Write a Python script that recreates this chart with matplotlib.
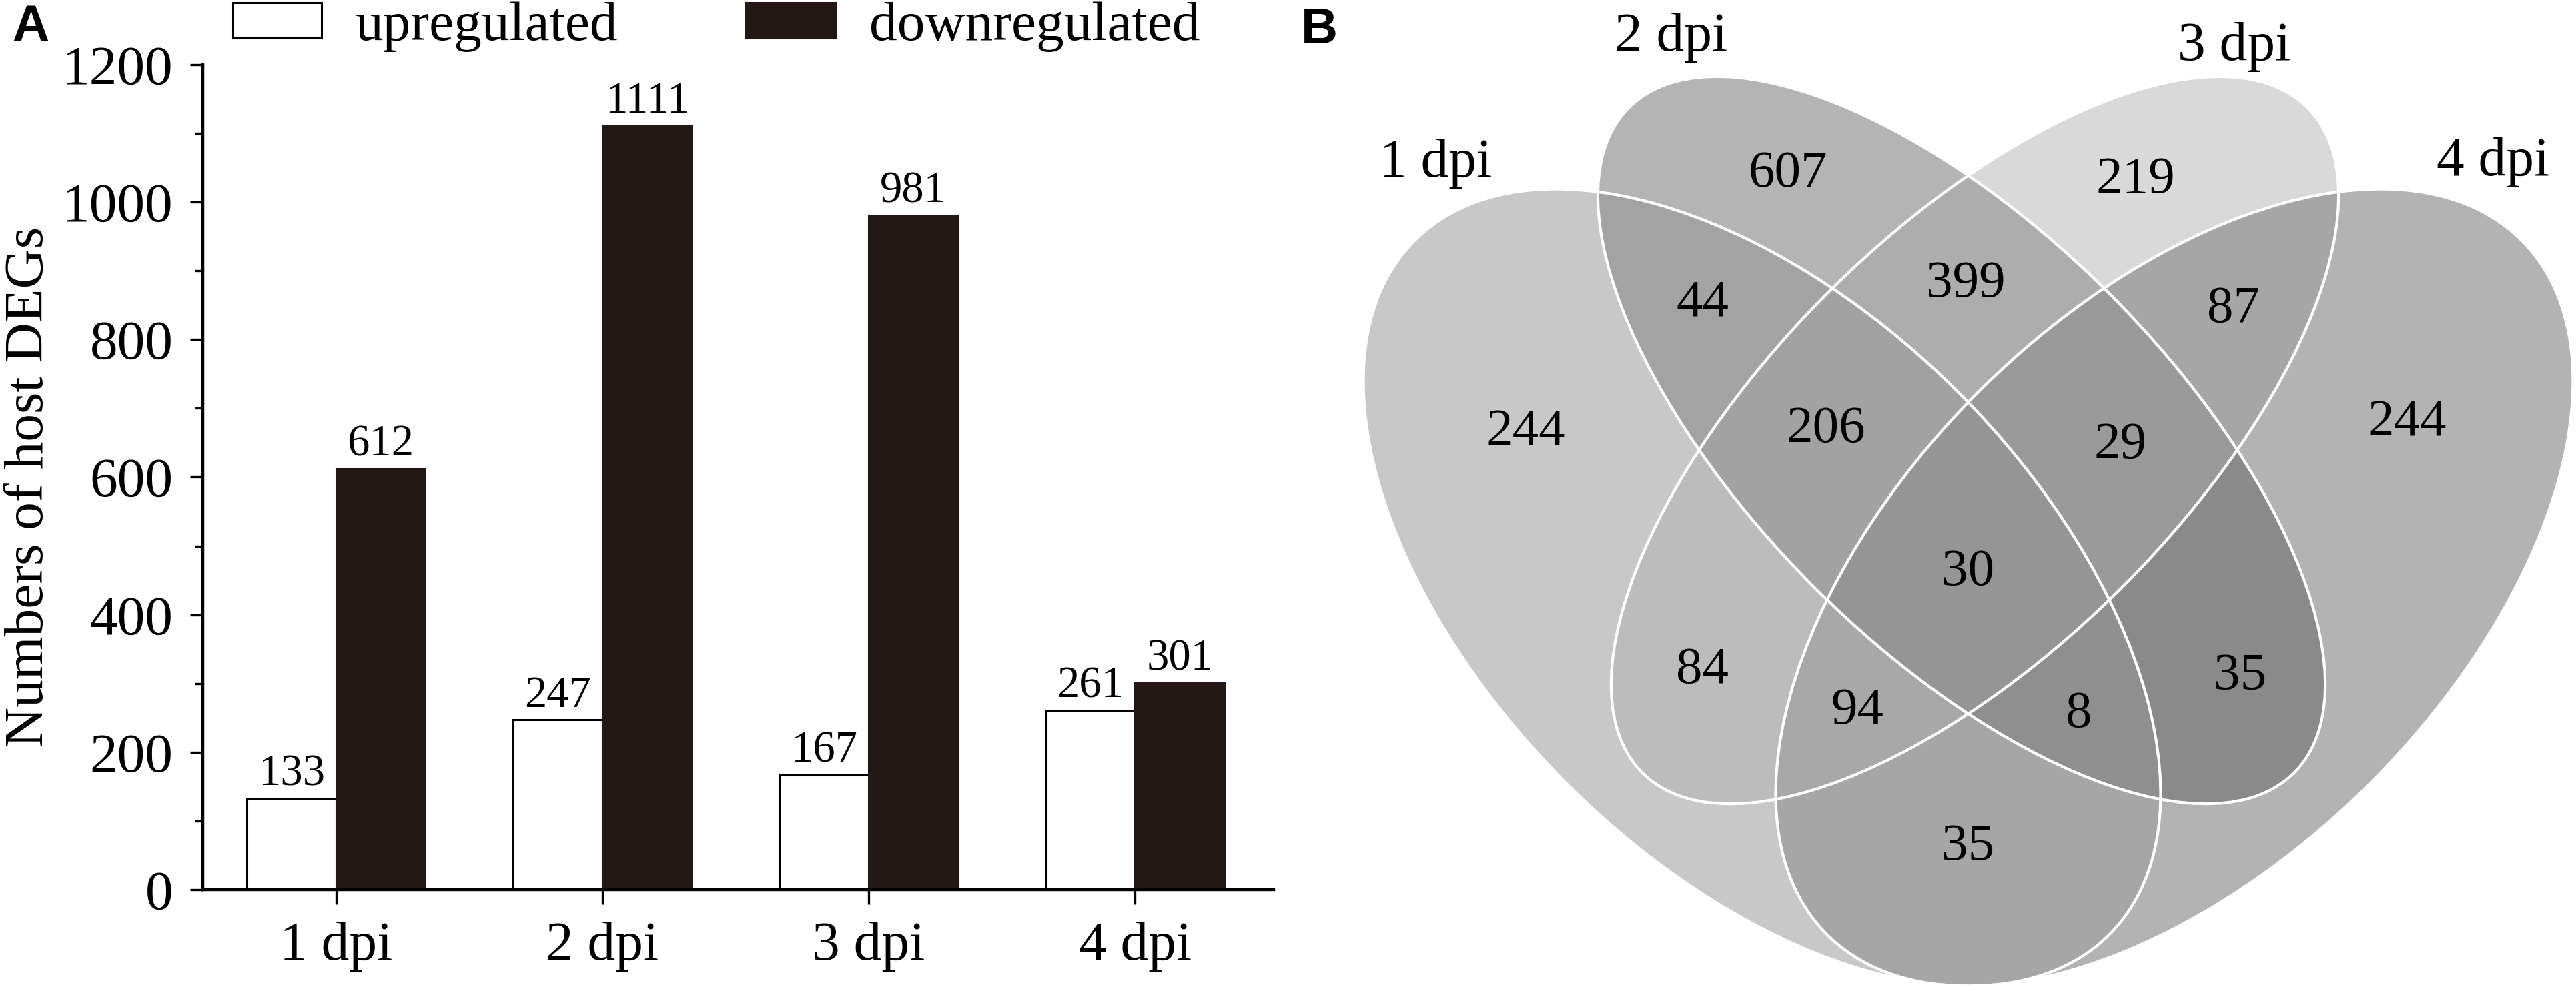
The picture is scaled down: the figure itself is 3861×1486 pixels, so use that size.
import matplotlib
matplotlib.use("Agg")
import matplotlib.pyplot as plt
from matplotlib.patches import Ellipse
import numpy as np

plt.rcParams["font.family"] = ["Liberation Serif", "DejaVu Serif"]

W, H = 3862, 1486

# panel A data
days = ["1 dpi", "2 dpi", "3 dpi", "4 dpi"]
upregulated = [133, 247, 167, 261]
downregulated = [612, 1111, 981, 301]

# panel B data (Venn region counts)
set_names = ["1 dpi", "2 dpi", "3 dpi", "4 dpi"]
region_sets = ["1", "2", "3", "4", "12", "13", "14", "23", "24", "34",
               "123", "124", "134", "234", "1234"]
region_counts = [244, 607, 219, 244, 44, 84, 35, 399, 35, 87,
                 206, 8, 94, 29, 30]

# grey level of each Venn region (same order as region_sets)
region_grey = [200, 180, 217, 179, 163, 188, 166, 173, 138, 166,
               162, 143, 168, 154, 149]

# layout of the Venn (figure pixels, y downwards)
region_pos = {"1": (2287, 649), "2": (2680, 261), "3": (3201, 270), "4": (3608, 635),
              "12": (2552, 455), "13": (2552, 1005), "14": (2950, 1270),
              "23": (2946, 426), "24": (3358, 1014), "34": (3348, 464),
              "123": (2737, 644), "124": (3116, 1071), "134": (2784, 1066),
              "234": (3178, 668), "1234": (2950, 858)}
set_label_pos = [(2152, 265), (2505, 76), (3349, 90), (3737, 263)]
# centre, semi-major, semi-minor, angle
ellipses = [((2641, 881), 736, 415, 45),
            ((2940, 660), 705, 312, 45),
            ((2960, 660), 705, 312, -45),
            ((3259, 881), 736, 415, -45)]

fig = plt.figure(figsize=(W / 100, H / 100), dpi=100)

############
# PANEL A  #
############
ax = fig.add_axes([304 / W, 152 / H, (1909 - 304) / W, (1389 - 152) / H])
x = np.arange(len(days))
w = 0.335
b_up = ax.bar(x - w / 2, upregulated, w, color="white", edgecolor="black",
              linewidth=2.2, label="upregulated")
b_down = ax.bar(x + w / 2, downregulated, w, color="#231815", edgecolor="#231815",
                linewidth=2.2, label="downregulated")

for xi, v in zip(x - w / 2, upregulated):
    ax.annotate(str(v), (xi, v), xytext=(0, 4), textcoords="offset points",
                ha="center", va="bottom", fontsize=48)
for xi, v in zip(x + w / 2, downregulated):
    ax.annotate(str(v), (xi, v), xytext=(0, 4), textcoords="offset points",
                ha="center", va="bottom", fontsize=48)

ax.set_xlim(-0.5, 3.52)
ax.set_ylim(0, 1200)
ax.set_xticks(x)
ax.set_xticklabels(days)
ax.set_yticks(np.arange(0, 1201, 200))
ax.set_yticks(np.arange(100, 1200, 200), minor=True)
for s in ["top", "right"]:
    ax.spines[s].set_visible(False)
for s in ["left", "bottom"]:
    ax.spines[s].set_linewidth(3.2)
ax.tick_params(axis="y", which="major", length=14, width=2.4, labelsize=60, pad=18)
ax.tick_params(axis="y", which="minor", length=9, width=2.4)
ax.tick_params(axis="x", which="major", length=16, width=2.4, labelsize=60, pad=18)

fig.text(44 / W, 1 - 730 / H, "Numbers of host DEGs", rotation=90,
         ha="center", va="center", fontsize=60)

ax.legend(handles=[b_up, b_down], loc="center left",
          bbox_to_anchor=(348 / W, 1 - 40 / H), bbox_transform=fig.transFigure,
          ncol=2, frameon=False, fontsize=60, borderpad=0, borderaxespad=0,
          handlelength=1.61, handleheight=0.6, handletextpad=0.61,
          columnspacing=2.3)

fig.text(18 / W, 1 - 6 / H, "A", ha="left", va="top", fontsize=55,
         fontweight="bold", family="Liberation Sans")
fig.text(1950 / W, 1 - 10 / H, "B", ha="left", va="top", fontsize=55,
         fontweight="bold", family="Liberation Sans")

############
# PANEL B  #
############
axv = fig.add_axes([0, 0, 1, 1])
axv.axis("off")

# membership of every pixel -> region code, then colour per region
x0, x1 = 1990, W
gx, gy = np.meshgrid(np.arange(x0, x1) + 0.5, np.arange(0, H) + 0.5)
code = np.zeros(gx.shape, dtype=int)
for i, ((cx, cy), a, b, ang) in enumerate(ellipses):
    t = np.deg2rad(ang)
    dx, dy = gx - cx, gy - cy
    u = dx * np.cos(t) + dy * np.sin(t)
    v = -dx * np.sin(t) + dy * np.cos(t)
    code += ((u / a) ** 2 + (v / b) ** 2 <= 1).astype(int) << i

lut = np.ones((16, 4))
lut[0, 3] = 0
for key, g in zip(region_sets, region_grey):
    c = sum(1 << (int(k) - 1) for k in key)
    lut[c, :3] = g / 255
axv.imshow(lut[code], extent=(x0, x1, H, 0), origin="upper",
           interpolation="nearest", aspect="auto", zorder=1)

for c, a, b, ang in ellipses:
    axv.add_patch(Ellipse(c, 2 * a, 2 * b, angle=ang, fill=False,
                          edgecolor="white", linewidth=3, zorder=2))

for key, n in zip(region_sets, region_counts):
    px, py = region_pos[key]
    axv.text(px, py, str(n), ha="center", va="center", fontsize=57, zorder=3)

for name, (px, py) in zip(set_names, set_label_pos):
    axv.text(px, py, name, ha="center", va="baseline", fontsize=60, zorder=3)

axv.set_xlim(0, W)
axv.set_ylim(H, 0)

fig.savefig("out.png", dpi=100)
